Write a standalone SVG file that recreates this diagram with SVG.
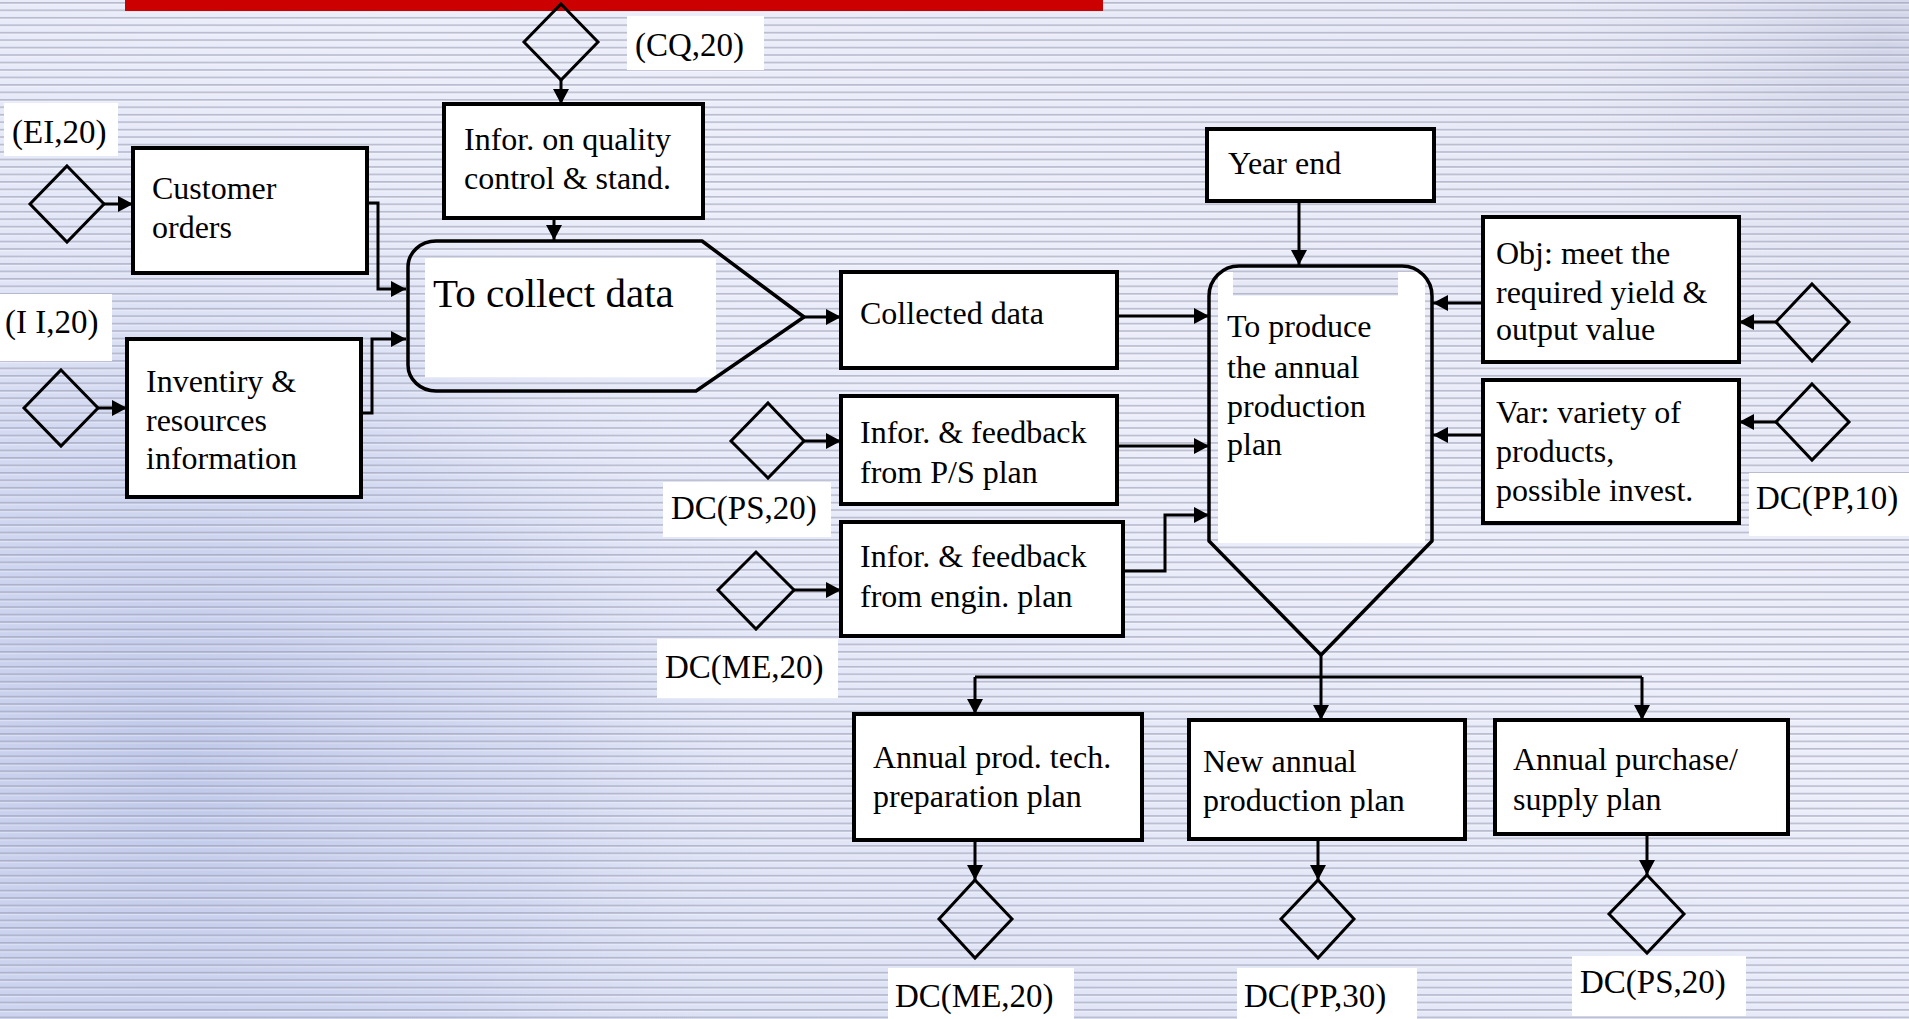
<svg xmlns="http://www.w3.org/2000/svg" width="1909" height="1019" viewBox="0 0 1909 1019">
<defs>
<linearGradient id="bgbase" x1="1" y1="0" x2="0" y2="1">
<stop offset="0" stop-color="#e4e6f4"/>
<stop offset="0.4" stop-color="#eceefa"/>
<stop offset="1" stop-color="#d6dcf2"/>
</linearGradient>
<radialGradient id="blobL" cx="180" cy="760" r="620" gradientUnits="userSpaceOnUse">
<stop offset="0" stop-color="#bcc6e8" stop-opacity="0.9"/>
<stop offset="0.6" stop-color="#c8d0ee" stop-opacity="0.5"/>
<stop offset="1" stop-color="#dfe3f6" stop-opacity="0"/>
</radialGradient>
<radialGradient id="blobTR" cx="1880" cy="40" r="320" gradientUnits="userSpaceOnUse">
<stop offset="0" stop-color="#ccd0e4" stop-opacity="0.8"/>
<stop offset="1" stop-color="#dcdff0" stop-opacity="0"/>
</radialGradient>
<pattern id="stripes" x="0" y="2" width="40" height="7.46" patternUnits="userSpaceOnUse">
<rect x="0" y="0" width="40" height="1.7" fill="#8f93ab" fill-opacity="0.55"/>
<rect x="0" y="1.7" width="40" height="1.3" fill="#ffffff" fill-opacity="0.35"/>
</pattern>
<marker id="ah" markerWidth="16" markerHeight="16" refX="15" refY="8" orient="auto" markerUnits="userSpaceOnUse">
<path d="M0,0 L15,8 L0,16 Z" fill="#000"/>
</marker>
<style>
.box{fill:#fff;stroke:#000;stroke-width:4}
.dia{fill:none;stroke:#000;stroke-width:3}
.shape{fill:none;stroke:#000;stroke-width:3.5;stroke-linejoin:round}
.lbl{fill:#fff}
.c{fill:none;stroke:#000;stroke-width:3}
.ca{fill:none;stroke:#000;stroke-width:3;marker-end:url(#ah)}
text{font-family:"Liberation Serif","Times New Roman",serif;font-size:32px;fill:#000}
.lt{font-size:33px}
.big{font-size:41px}
</style>
</defs>

<rect width="1909" height="1019" fill="url(#bgbase)"/>
<rect width="1909" height="1019" fill="url(#blobL)"/>
<rect width="1909" height="1019" fill="url(#blobTR)"/>
<rect width="1909" height="1019" fill="url(#stripes)"/>
<rect x="125" y="0" width="978" height="11" fill="#cc0000"/>

<g id="connectors">
<line class="ca" x1="561" y1="80" x2="561" y2="104"/>
<line class="ca" x1="554" y1="218" x2="554" y2="240"/>
<line class="ca" x1="104" y1="204" x2="133" y2="204"/>
<path class="ca" d="M367,203 H378 V289 H406"/>
<line class="ca" x1="98" y1="408" x2="127" y2="408"/>
<path class="ca" d="M361,413 H372 V339 H406"/>
<line class="ca" x1="804" y1="317" x2="841" y2="317"/>
<line class="ca" x1="1117" y1="316" x2="1209" y2="316"/>
<line class="ca" x1="1299" y1="201" x2="1299" y2="265"/>
<line class="ca" x1="1483" y1="303" x2="1433" y2="303"/>
<line class="ca" x1="1776" y1="322" x2="1739" y2="322"/>
<line class="ca" x1="1483" y1="435" x2="1433" y2="435"/>
<line class="ca" x1="1776" y1="422" x2="1739" y2="422"/>
<line class="ca" x1="804" y1="441" x2="841" y2="441"/>
<line class="ca" x1="1117" y1="446" x2="1209" y2="446"/>
<line class="ca" x1="794" y1="590" x2="841" y2="590"/>
<path class="ca" d="M1123,571 H1165 V515 H1209"/>
<line class="c" x1="975" y1="677" x2="1642" y2="677"/>
<line class="ca" x1="975" y1="677" x2="975" y2="714"/>
<line class="ca" x1="1321" y1="655" x2="1321" y2="720"/>
<line class="ca" x1="1642" y1="677" x2="1642" y2="720"/>
<line class="ca" x1="975" y1="840" x2="975" y2="880"/>
<line class="ca" x1="1318" y1="839" x2="1318" y2="880"/>
<line class="ca" x1="1647" y1="834" x2="1647" y2="875"/>
</g>

<g id="cq-input">
<polygon class="dia" points="561,4 598,42 561,80 524,42"/>
<rect class="lbl" x="627" y="16" width="137" height="54"/>
<text class="lt" x="635" y="56">(CQ,20)</text>
</g>

<g id="quality-info">
<rect class="box" x="444" y="104" width="259" height="114"/>
<text x="464" y="150">Infor. on quality</text>
<text x="464" y="189">control &amp; stand.</text>
</g>

<g id="ei-input">
<rect class="lbl" x="4" y="103" width="114" height="53"/>
<text class="lt" x="12" y="143">(EI,20)</text>
<polygon class="dia" points="67,166 104,204 67,242 30,204"/>
</g>

<g id="customer-orders">
<rect class="box" x="133" y="148" width="234" height="125"/>
<text x="152" y="199">Customer</text>
<text x="152" y="238">orders</text>
</g>

<g id="ii-input">
<rect class="lbl" x="0" y="294" width="112" height="67"/>
<text class="lt" x="5" y="333">(I I,20)</text>
<polygon class="dia" points="61,370 98,408 61,446 24,408"/>
</g>

<g id="inventory">
<rect class="box" x="127" y="339" width="234" height="158"/>
<text x="146" y="392">Inventiry &amp;</text>
<text x="146" y="431">resources</text>
<text x="146" y="469">information</text>
</g>

<g id="collect-data">
<rect x="425" y="258" width="291" height="119" fill="#fff"/>
<path class="shape" d="M436,241 H702 L804,317 L696,391 H436 A28,26 0 0 1 408,365 V267 A28,26 0 0 1 436,241 Z"/>
<text class="big" x="433" y="307">To collect data</text>
</g>

<g id="collected-data">
<rect class="box" x="841" y="272" width="276" height="96"/>
<text x="860" y="324">Collected data</text>
</g>

<g id="year-end">
<rect class="box" x="1207" y="129" width="227" height="72"/>
<text x="1228" y="174">Year end</text>
</g>

<g id="produce-plan">
<rect x="1218" y="272" width="207" height="271" fill="#fff"/>
<rect x="1233" y="271" width="165" height="25" fill="#e6e8f6"/>
<rect x="1233" y="271" width="165" height="25" fill="url(#stripes)"/>
<path class="shape" d="M1239,266 H1402 A30,30 0 0 1 1432,296 V541 L1321,655 L1209,541 V296 A30,30 0 0 1 1239,266 Z"/>
<text x="1227" y="337">To produce</text>
<text x="1227" y="378">the annual</text>
<text x="1227" y="417">production</text>
<text x="1227" y="455">plan</text>
</g>

<g id="objective">
<rect class="box" x="1483" y="217" width="256" height="145"/>
<text x="1496" y="264">Obj: meet the</text>
<text x="1496" y="303">required yield &amp;</text>
<text x="1496" y="340">output value</text>
<polygon class="dia" points="1812,284 1849,322 1812,361 1776,322"/>
</g>

<g id="variety">
<rect class="box" x="1483" y="380" width="256" height="143"/>
<text x="1496" y="423">Var: variety of</text>
<text x="1496" y="462">products,</text>
<text x="1496" y="501">possible invest.</text>
<polygon class="dia" points="1812,384 1849,422 1812,460 1776,422"/>
<rect class="lbl" x="1749" y="473" width="160" height="63"/>
<text class="lt" x="1756" y="509">DC(PP,10)</text>
</g>

<g id="ps-feedback">
<rect class="box" x="841" y="396" width="276" height="108"/>
<text x="860" y="443">Infor. &amp; feedback</text>
<text x="860" y="483">from P/S plan</text>
<polygon class="dia" points="768,403 804,441 768,478 731,441"/>
<rect class="lbl" x="663" y="482" width="168" height="55"/>
<text class="lt" x="671" y="519">DC(PS,20)</text>
</g>

<g id="engin-feedback">
<rect class="box" x="841" y="522" width="282" height="114"/>
<text x="860" y="567">Infor. &amp; feedback</text>
<text x="860" y="607">from engin. plan</text>
<polygon class="dia" points="756,552 794,590 756,629 718,590"/>
<rect class="lbl" x="657" y="639" width="181" height="59"/>
<text class="lt" x="665" y="678">DC(ME,20)</text>
</g>

<g id="tech-prep-plan">
<rect class="box" x="854" y="714" width="288" height="126"/>
<text x="873" y="768">Annual prod. tech.</text>
<text x="873" y="807">preparation plan</text>
<polygon class="dia" points="975,880 1012,919 975,958 939,919"/>
<rect class="lbl" x="888" y="968" width="186" height="51"/>
<text class="lt" x="895" y="1007">DC(ME,20)</text>
</g>

<g id="new-production-plan">
<rect class="box" x="1189" y="720" width="276" height="119"/>
<text x="1203" y="772">New annual</text>
<text x="1203" y="811">production plan</text>
<polygon class="dia" points="1318,880 1354,919 1318,958 1281,919"/>
<rect class="lbl" x="1237" y="968" width="180" height="51"/>
<text class="lt" x="1244" y="1007">DC(PP,30)</text>
</g>

<g id="purchase-plan">
<rect class="box" x="1495" y="720" width="293" height="114"/>
<text x="1513" y="770">Annual purchase/</text>
<text x="1513" y="810">supply plan</text>
<polygon class="dia" points="1647,875 1684,914 1647,953 1609,914"/>
<rect class="lbl" x="1572" y="956" width="174" height="60"/>
<text class="lt" x="1580" y="993">DC(PS,20)</text>
</g>
</svg>
